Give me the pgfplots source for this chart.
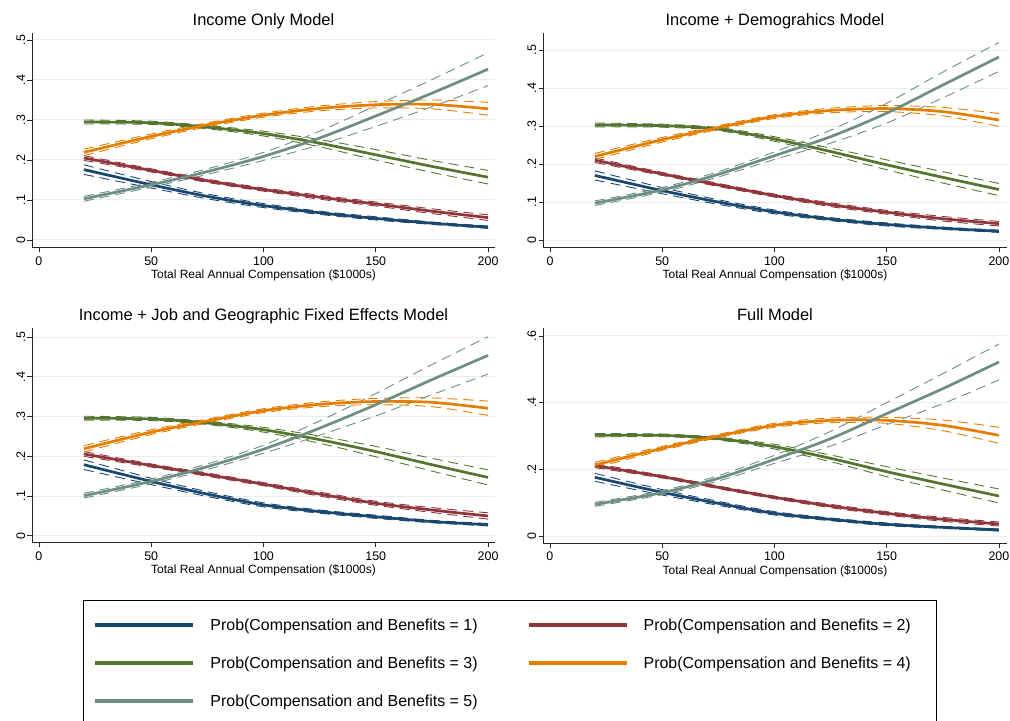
\documentclass[border=0pt]{standalone}
\usepackage{fontspec}
\setmainfont{Liberation Sans}
\usepackage{pgfplots}
\usepackage{pgfplotstable}
\pgfplotsset{compat=1.18}
\definecolor{c1}{RGB}{26,71,111}
\definecolor{c2}{RGB}{144,53,59}
\definecolor{c3}{RGB}{85,117,47}
\definecolor{c4}{RGB}{227,126,0}
\definecolor{c5}{RGB}{110,142,132}
\definecolor{gridc}{RGB}{230,238,241}

\pgfplotstableread{
x b bl bu r rl ru g gl gu o ol ou t tl tu
20 .176 .164 .188 .205 .199 .211 .295 .290 .300 .219 .211 .227 .103 .097 .109
50 .138 .130 .146 .174 .170 .178 .293 .289 .297 .259 .253 .265 .138 .132 .144
75 .109 .103 .115 .148 .144 .152 .282 .278 .286 .288 .283 .293 .171 .164 .178
100 .086 .081 .091 .126 .122 .130 .266 .260 .272 .312 .307 .317 .209 .199 .219
125 .068 .064 .072 .107 .102 .112 .242 .233 .251 .329 .323 .335 .255 .238 .272
150 .054 .050 .058 .090 .085 .095 .213 .200 .226 .338 .330 .346 .310 .284 .336
175 .042 .039 .045 .072 .066 .078 .184 .169 .199 .339 .328 .350 .367 .333 .401
200 .032 .029 .035 .056 .049 .063 .157 .140 .174 .328 .312 .344 .427 .386 .468
}\tA
\pgfplotstableread{
x b bl bu r rl ru g gl gu o ol ou t tl tu
20 .170 .158 .182 .210 .204 .216 .303 .298 .308 .220 .212 .228 .097 .091 .103
50 .130 .122 .138 .174 .170 .178 .301 .297 .305 .264 .258 .270 .132 .126 .138
75 .100 .094 .106 .145 .141 .149 .292 .288 .296 .296 .291 .301 .173 .166 .180
100 .074 .069 .079 .117 .113 .121 .266 .260 .272 .325 .320 .330 .222 .212 .232
125 .055 .051 .059 .093 .088 .098 .233 .224 .242 .341 .335 .347 .272 .255 .289
150 .041 .037 .045 .073 .068 .078 .198 .185 .211 .346 .338 .354 .334 .308 .360
175 .031 .028 .034 .056 .050 .062 .165 .150 .180 .338 .327 .349 .408 .374 .442
200 .023 .020 .026 .043 .037 .049 .133 .117 .149 .316 .299 .333 .482 .444 .520
}\tB
\pgfplotstableread{
x b bl bu r rl ru g gl gu o ol ou t tl tu
20 .179 .167 .191 .206 .200 .212 .296 .291 .301 .219 .211 .227 .101 .095 .107
50 .137 .129 .145 .177 .173 .181 .294 .290 .298 .261 .255 .267 .137 .131 .143
75 .105 .099 .111 .154 .150 .158 .284 .280 .288 .289 .284 .294 .174 .167 .181
100 .078 .073 .083 .130 .126 .134 .267 .261 .273 .315 .310 .320 .218 .208 .228
125 .061 .057 .065 .105 .100 .110 .242 .233 .251 .331 .325 .337 .271 .253 .289
150 .048 .044 .052 .082 .077 .087 .212 .199 .225 .338 .330 .346 .330 .302 .358
175 .036 .033 .039 .065 .059 .071 .179 .163 .195 .336 .325 .347 .393 .355 .431
200 .028 .025 .031 .050 .042 .058 .147 .128 .166 .321 .303 .339 .454 .407 .501
}\tC
\pgfplotstableread{
x b bl bu r rl ru g gl gu o ol ou t tl tu
20 .176 .164 .188 .211 .205 .217 .302 .297 .307 .213 .205 .221 .095 .089 .101
50 .131 .123 .139 .178 .174 .182 .302 .298 .306 .263 .257 .269 .130 .124 .136
75 .098 .092 .104 .146 .142 .150 .292 .288 .296 .300 .295 .305 .173 .165 .181
100 .068 .063 .073 .116 .112 .120 .268 .261 .275 .332 .326 .338 .230 .218 .242
125 .050 .046 .054 .090 .085 .095 .233 .223 .243 .347 .340 .354 .292 .270 .314
150 .035 .031 .039 .068 .063 .073 .193 .178 .208 .347 .338 .356 .367 .334 .400
175 .026 .023 .029 .050 .044 .056 .156 .138 .174 .332 .316 .348 .442 .397 .487
200 .018 .015 .021 .036 .030 .042 .120 .099 .141 .302 .278 .326 .522 .468 .576
}\tD

\pgfplotsset{
  panel/.style={
    scale only axis, height=215bp, anchor=south west,
    axis x line*=bottom, axis y line*=left,
    axis line style={-, line width=1bp, black!85},
    tick align=outside, major tick length=4.5bp,
    tick style={line width=0.8bp, black!85},
    xtick={0,50,100,150,200},
    ymajorgrids, grid style={gridc, line width=1bp},
    title style={font=\fontsize{16.5}{18}\selectfont, at={(0.5,1)}, anchor=base, yshift=2bp},
    ticklabel style={font=\fontsize{12.5}{14}\selectfont},
    yticklabel style={xshift=-2.5bp, rotate=90, anchor=base, inner sep=0pt},
    xticklabel style={yshift=-4.5bp, anchor=north, inner sep=0pt},
    xlabel={Total Real Annual Compensation (\$1000s)},
    xlabel style={font=\fontsize{12}{14}\selectfont, at={(axis description cs:0.5,0)}, anchor=base, yshift=-31bp},
    /pgf/number format/assume math mode=true,
  },
  band/.style={line width=0.9bp, dash pattern=on 10bp off 6bp, smooth, forget plot},
  mean/.style={line width=2.7bp, smooth},
}

\newcommand{\bands}[1]{%
  \addplot[c1,band] table[x=x,y=bl]{#1};
  \addplot[c1,band] table[x=x,y=bu]{#1};
  \addplot[c2,band] table[x=x,y=rl]{#1};
  \addplot[c2,band] table[x=x,y=ru]{#1};
  \addplot[c3,band] table[x=x,y=gl]{#1};
  \addplot[c3,band] table[x=x,y=gu]{#1};
  \addplot[c4,band] table[x=x,y=ol]{#1};
  \addplot[c4,band] table[x=x,y=ou]{#1};
  \addplot[c5,band] table[x=x,y=tl]{#1};
  \addplot[c5,band] table[x=x,y=tu]{#1};
}
\newcommand{\means}[1]{%
  \addplot[c1,mean] table[x=x,y=b]{#1};
  \addplot[c2,mean] table[x=x,y=r]{#1};
  \addplot[c3,mean] table[x=x,y=g]{#1};
  \addplot[c4,mean] table[x=x,y=o]{#1};
  \addplot[c5,mean] table[x=x,y=t]{#1};
}

\begin{document}
\begin{tikzpicture}
\path[use as bounding box] (0bp,0bp) rectangle (1010bp,721bp);

\begin{axis}[panel, at={(32bp,473bp)}, width=463bp,
  xmin=-3.1, xmax=203.1, ymin=-0.02, ymax=0.5175,
  ytick={0,0.1,0.2,0.3,0.4,0.5}, yticklabels={0,.1,.2,.3,.4,.5},
  title={Income Only Model}]
\bands{\tA}
\means{\tA}
\end{axis}

\begin{axis}[panel, at={(543bp,473bp)}, width=464bp,
  xmin=-3.1, xmax=203.6, ymin=-0.021, ymax=0.545,
  ytick={0,0.1,0.2,0.3,0.4,0.5}, yticklabels={0,.1,.2,.3,.4,.5},
  title={Income + Demograhics Model}]
\bands{\tB}
\means{\tB}
\end{axis}

\begin{axis}[panel, at={(32bp,178bp)}, width=463bp,
  xmin=-3.1, xmax=203.1, ymin=-0.018, ymax=0.523,
  ytick={0,0.1,0.2,0.3,0.4,0.5}, yticklabels={0,.1,.2,.3,.4,.5},
  title={Income + Job and Geographic Fixed Effects Model}]
\bands{\tC}
\means{\tC}
\end{axis}

\begin{axis}[panel, at={(543bp,178bp)}, width=464bp,
  xmin=-3.1, xmax=203.6, ymin=-0.021, ymax=0.624,
  ytick={0,0.2,0.4,0.6}, yticklabels={0,.2,.4,.6},
  title={Full Model},
  legend columns=2, legend cell align=left,
  legend image code/.code={\draw[#1, line width=4bp] (0bp,0bp) -- (98bp,0bp);},
  legend style={at={(-0.99138,-0.26512)}, anchor=north west,
    draw=black, line width=1bp, fill=white,
    inner xsep=10bp, inner ysep=18bp, row sep=25bp,
    font=\fontsize{16}{19}\selectfont,
    nodes={inner sep=0pt},
    /tikz/every odd column/.append style={column sep=15bp},
    /tikz/every even column/.append style={column sep=49bp}}]
\bands{\tD}
\means{\tD}
\legend{Prob(Compensation and Benefits = 1),
  \makebox[283bp][l]{Prob(Compensation and Benefits = 2)},
  Prob(Compensation and Benefits = 3),
  \makebox[283bp][l]{Prob(Compensation and Benefits = 4)},
  Prob(Compensation and Benefits = 5)}
\end{axis}
\end{tikzpicture}
\end{document}
